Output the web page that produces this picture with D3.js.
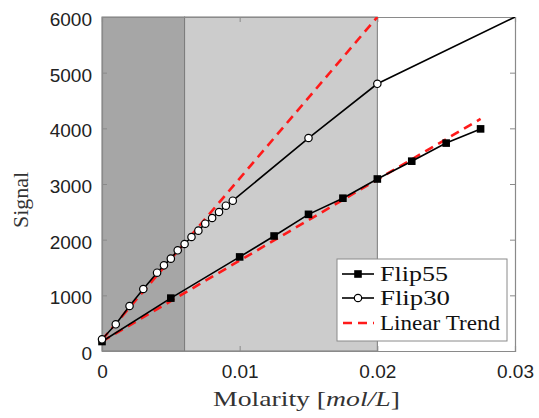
<!DOCTYPE html>
<html><head><meta charset="utf-8">
<script src="https://cdn.jsdelivr.net/npm/d3@7"></script>
<style>body{margin:0;background:#fff}</style>
</head><body>
<svg id="c" width="539" height="418"></svg>
<script>
// Data
const flip55X = [0, 0.005, 0.01, 0.0125, 0.015, 0.0175, 0.02, 0.0225, 0.025, 0.0275];
const flip55Y = [170, 950, 1690, 2066, 2455, 2745, 3090, 3410, 3735, 3990];
const flip30X = [0, 0.001, 0.002, 0.003, 0.004, 0.0045, 0.005, 0.0055, 0.006, 0.0065, 0.007, 0.0075, 0.008, 0.0085, 0.009, 0.0095, 0.015, 0.02, 0.03];
const flip30Y = [210, 480, 808, 1114, 1407, 1539, 1659, 1809, 1922, 2048, 2162, 2287, 2389, 2497, 2610, 2700, 3826, 4800, 6000];
const flip30Markers = 18; // last point lies on the axes corner (no marker shown)
const trend30X = [0, 0.02];
const trend30Y = [200, 6000];
const trend55X = [0, 0.0275];
const trend55Y = [170, 4170];
const regions = [[0, 0.006], [0.006, 0.02]];
const xTicks = [0, 0.01, 0.02, 0.03];
const yTicks = [0, 1000, 2000, 3000, 4000, 5000, 6000];
const legendLabels = ["Flip55", "Flip30", "Linear Trend"];

const svg = d3.select("#c");
const L = 102, R = 515, T = 17, B = 351;
const x = d3.scaleLinear().domain([0, 0.03]).range([L, R]);
const y = d3.scaleLinear().domain([0, 6000]).range([B, T]);

svg.append("defs").append("clipPath").attr("id", "clip")
  .append("rect").attr("x", L).attr("y", T).attr("width", R - L).attr("height", B - T);

// shaded regions
const regColors = ["#a6a6a6", "#cccccc"];
svg.selectAll("rect.reg").data(regions).join("rect")
  .attr("x", d => x(d[0])).attr("y", T)
  .attr("width", d => x(d[1]) - x(d[0])).attr("height", B - T)
  .attr("fill", (d, i) => regColors[i])
  .attr("stroke", "#7a7a7a").attr("stroke-width", 1);

// axes box + ticks
const axisColor = "#8a8a8a";
const fontSans = "'Liberation Sans', Arial, sans-serif";
const gx = svg.append("g").attr("transform", `translate(0,${B})`)
  .call(d3.axisBottom(x).tickValues(xTicks).tickSize(-5).tickPadding(14).tickFormat(d => d === 0 ? "0" : d3.format(".2f")(d)));
const gxt = svg.append("g").attr("transform", `translate(0,${T})`)
  .call(d3.axisTop(x).tickValues(xTicks).tickSize(-5).tickFormat(""));
const gy = svg.append("g").attr("transform", `translate(${L},0)`)
  .call(d3.axisLeft(y).tickValues(yTicks).tickSize(-5).tickPadding(10).tickFormat(d3.format("d")));
const gyr = svg.append("g").attr("transform", `translate(${R},0)`)
  .call(d3.axisRight(y).tickValues(yTicks).tickSize(-5).tickFormat(""));
[gx, gxt, gy, gyr].forEach(g => {
  g.select(".domain").attr("stroke", axisColor).attr("stroke-width", 1.2);
  g.selectAll(".tick line").attr("stroke", axisColor);
  g.selectAll("text").attr("font-family", fontSans).attr("font-size", 19).attr("fill", "#222");
});
gy.selectAll("text").attr("dy", "0.45em");

// trend lines
const lineGen = d3.line().x(d => x(d[0])).y(d => y(d[1]));
const plot = svg.append("g").attr("clip-path", "url(#clip)");
[[trend30X, trend30Y], [trend55X, trend55Y]].forEach(([xs, ys]) => {
  plot.append("path").datum(xs.map((v, i) => [v, ys[i]]))
    .attr("d", lineGen).attr("fill", "none").attr("stroke", "#ff1a1a")
    .attr("stroke-width", 2.6).attr("stroke-dasharray", "9,6");
});

// data lines
const d55 = flip55X.map((v, i) => [v, flip55Y[i]]);
const d30 = flip30X.map((v, i) => [v, flip30Y[i]]);
plot.append("path").datum(d55).attr("d", lineGen).attr("fill", "none").attr("stroke", "#000").attr("stroke-width", 1.6);
plot.append("path").datum(d30).attr("d", lineGen).attr("fill", "none").attr("stroke", "#000").attr("stroke-width", 1.6);

svg.selectAll("rect.sq").data(d55).join("rect").attr("class", "sq")
  .attr("x", d => x(d[0]) - 3.8).attr("y", d => y(d[1]) - 3.8)
  .attr("width", 7.6).attr("height", 7.6).attr("fill", "#000");
svg.selectAll("circle.ci").data(d30.slice(0, flip30Markers)).join("circle").attr("class", "ci")
  .attr("cx", d => x(d[0])).attr("cy", d => y(d[1])).attr("r", 3.7)
  .attr("fill", "#fff").attr("stroke", "#000").attr("stroke-width", 1.2);

// legend
const fontSerif = "'Liberation Serif', 'Times New Roman', serif";
const lg = svg.append("g");
lg.append("rect").attr("x", 337).attr("y", 259).attr("width", 170).attr("height", 82)
  .attr("fill", "#fff").attr("stroke", "#8a8a8a").attr("stroke-width", 1);
const ly = [274, 298, 323];
const lw = [68, 70, 120];
legendLabels.forEach((lab, i) => {
  const l = lg.append("line").attr("x1", 342).attr("x2", 374).attr("y1", ly[i]).attr("y2", ly[i]);
  if (i < 2) l.attr("stroke", "#000").attr("stroke-width", 1.6);
  else l.attr("stroke", "#ff1a1a").attr("stroke-width", 2.6).attr("stroke-dasharray", "9,6").attr("x1", 343);
  if (i === 0) lg.append("rect").attr("x", 358 - 3.8).attr("y", ly[i] - 3.8).attr("width", 7.6).attr("height", 7.6).attr("fill", "#000");
  if (i === 1) lg.append("circle").attr("cx", 358).attr("cy", ly[i]).attr("r", 3.7).attr("fill", "#fff").attr("stroke", "#000").attr("stroke-width", 1.2);
  lg.append("text").attr("x", 380).attr("y", ly[i] + 7).text(lab)
    .attr("font-family", fontSerif).attr("font-size", 20).attr("fill", "#111")
    .attr("textLength", lw[i]).attr("lengthAdjust", "spacingAndGlyphs");
});

// axis labels
const xl = svg.append("text").attr("x", 213).attr("y", 406)
  .attr("font-family", fontSerif).attr("font-size", 22).attr("fill", "#333")
  .attr("textLength", 187).attr("lengthAdjust", "spacingAndGlyphs");
xl.append("tspan").text("Molarity [");
xl.append("tspan").attr("font-style", "italic").text("mol/L");
xl.append("tspan").text("]");
svg.append("text").attr("transform", "translate(28,200) rotate(-90)").attr("text-anchor", "middle")
  .attr("font-family", fontSerif).attr("font-size", 22).attr("fill", "#333").text("Signal");
</script>
</body></html>
